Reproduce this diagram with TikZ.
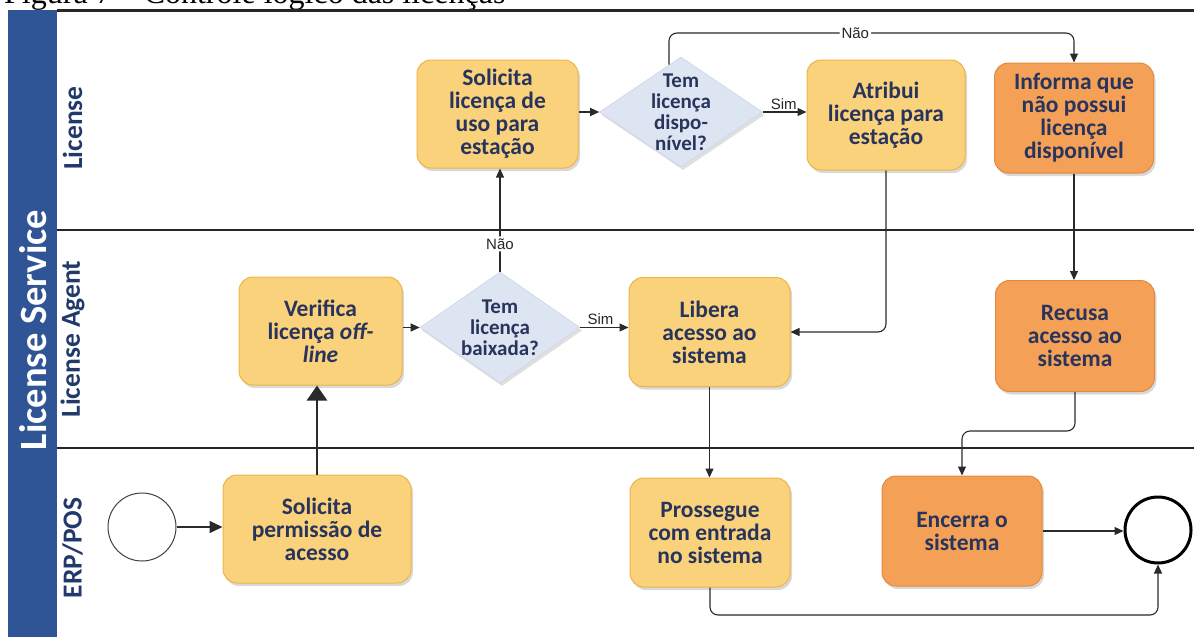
\documentclass[tikz,border=0pt]{standalone}
\usepackage{fontspec}
\setmainfont{Carlito}
\newfontfamily\serifT{Liberation Serif}
\newfontfamily\arialT{Liberation Sans}
\usetikzlibrary{shapes.geometric,arrows.meta,shadows}
\definecolor{navytext}{HTML}{28345C}
\definecolor{lanetext}{HTML}{22396B}
\definecolor{bandblue}{HTML}{2F5597}
\definecolor{yfill}{HTML}{F9D27B}
\definecolor{yedge}{HTML}{EDB448}
\definecolor{ofill}{HTML}{F4A157}
\definecolor{oedge}{HTML}{E38A3C}
\definecolor{dfill}{HTML}{DCE5F1}
\definecolor{conncol}{HTML}{2A2A2A}
\tikzset{
  boxbase/.style={rectangle, rounded corners=14pt, line width=1pt, align=center,
    text=navytext, font=\fontsize{23.5}{23}\selectfont\bfseries, inner sep=2pt,
    drop shadow={shadow xshift=2pt, shadow yshift=-3pt, opacity=0.3, fill=gray}},
  ybox/.style={boxbase, fill=yfill, draw=yedge},
  obox/.style={boxbase, fill=ofill, draw=oedge},
  dmd/.style={diamond, fill=dfill, draw=dfill!85!gray, line width=0.6pt, inner sep=0pt,
    drop shadow={shadow xshift=2pt, shadow yshift=-3pt, opacity=0.25, fill=gray}},
  dtext/.style={align=center, text=navytext, font=\fontsize{21}{21}\selectfont\bfseries, inner sep=0pt},
  conn/.style={draw=conncol, line width=1.1pt, rounded corners=8pt},
  arr/.style={conn, -{Triangle[length=9pt,width=8pt]}},
  lbl/.style={font=\arialT\fontsize{15}{17}\selectfont, text=black!85, inner sep=2pt},
  lanelbl/.style={rotate=90, font=\fontsize{27.5}{29}\selectfont\bfseries, text=lanetext},
  lanesep/.style={draw=black!85, line width=2.4pt},
}
\begin{document}
\begin{tikzpicture}[x=1pt,y=-1pt]
\useasboundingbox (0,0) rectangle (1194,637);
\clip (0,0) rectangle (1194,637);

% title (cut at top)
\node[anchor=base west, inner sep=0pt, font=\serifT\fontsize{32}{34}\selectfont] (title) at (4,3) {Figura 7 – Controle lógico das licenças};

% pool band
\fill[bandblue] (8,10) rectangle (57,640);
\node[rotate=90, font=\fontsize{38.5}{40}\selectfont\bfseries, text=white] (pool) at (33,330) {License Service};

% lane separators
\draw[lanesep] (57,10.5) -- (1194,10.5);
\draw[lanesep] (57,230) -- (1194,230);
\draw[lanesep] (57,448) -- (1194,448);

% lane labels
\node[lanelbl] (l1) at (72.5,128) {License};
\node[lanelbl] (l2) at (72.5,339) {License Agent};
\node[lanelbl] (l3) at (72.5,548) {ERP/POS};

% lane 1
\node[ybox, minimum width=161pt, minimum height=108pt] (slu) at (497.5,114) {Solicita\\licença de\\uso para\\estação};
\node[dmd, minimum width=163pt, minimum height=110pt,
      label={[dtext]center:{Tem\\licença\\dispo-\\nível?}}] (d2) at (681,112) {};
\node[ybox, minimum width=158pt, minimum height=110pt] (atr) at (886,115) {Atribui\\licença para\\estação};
\node[obox, minimum width=159pt, minimum height=110pt] (inf) at (1074,118) {Informa que\\não possui\\licença\\disponível};

% lane 2
\node[ybox, minimum width=163pt, minimum height=108pt] (ver) at (320.5,331) {Verifica\\licença \textit{off-}\\\textit{line}};
\node[dmd, minimum width=160pt, minimum height=111pt,
      label={[dtext]center:{Tem\\licença\\baixada?}}] (d1) at (500,327.5) {};
\node[ybox, minimum width=161pt, minimum height=109pt] (lib) at (709.5,332) {Libera\\acesso ao\\sistema};
\node[obox, minimum width=159pt, minimum height=111pt] (rec) at (1075,336) {Recusa\\acesso ao\\sistema};

% lane 3
\node[circle, draw=black!75, line width=1pt, minimum size=68pt, inner sep=0pt] (startc) at (142,527) {};
\node[ybox, minimum width=188pt, minimum height=108pt] (sper) at (317,529) {Solicita\\permissão de\\acesso};
\node[ybox, minimum width=160pt, minimum height=109pt] (pro) at (710,532.5) {Prossegue\\com entrada\\no sistema};
\node[obox, minimum width=160pt, minimum height=110pt] (enc) at (962,531) {Encerra o\\sistema};
\node[circle, draw=black, line width=3pt, minimum size=66pt, inner sep=0pt] (endc) at (1158,530) {};

% helper coordinates
\coordinate (naotop) at (1074,33);
\coordinate (recy) at (0,431);
\coordinate (boty) at (0,615);

% connectors
\draw[conn, line width=1.6pt, -{Triangle[length=13pt,width=12pt]}] (startc.east) -- (startc.east -| sper.west);
\draw[conn, line width=2.5pt, -{Triangle[length=15pt,width=20pt]}] (sper.north) -- (sper.north |- ver.south);
\draw[arr] (ver.east |- d1.west) -- (d1.west);
\draw[arr] (d1.north) -- node[lbl, fill=white, pos=0.27] {Não} (d1.north |- slu.south);
\draw[arr] (d1.east) -- node[lbl, above, pos=0.42] {Sim} (lib.west |- d1.east);
\draw[arr] (slu.east |- d2.west) -- (d2.west);
\draw[arr] (d2.east) -- node[lbl, above, pos=0.48] {Sim} (atr.west |- d2.east);
\draw[arr] ([xshift=-12pt,yshift=-8pt]d2.north) |- node[lbl, fill=white, pos=0.73] {Não} (naotop) -- (inf.north);
\draw[arr] (atr.south) |- (lib.east);
\draw[arr] (inf.south) -- (inf.south |- rec.north);
\draw[arr] (rec.south) -- (rec.south |- recy) -| (enc.north);
\draw[arr] (lib.south) -- (lib.south |- pro.north);
\draw[arr] (enc.east) -- (enc.east -| endc.west);
\draw[arr] (pro.south) -- (pro.south |- boty) -| (endc.south);
\end{tikzpicture}
\end{document}
